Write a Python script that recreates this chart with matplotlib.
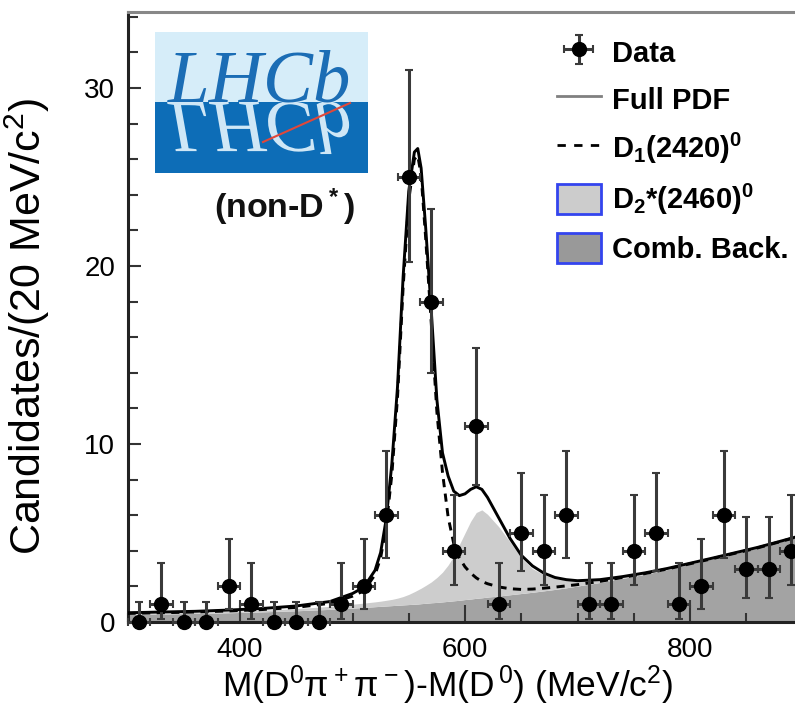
import matplotlib
matplotlib.use("Agg")
import matplotlib.pyplot as plt
from matplotlib.lines import Line2D
from matplotlib.patches import Patch, Rectangle, PathPatch
from matplotlib.textpath import TextPath
from matplotlib.font_manager import FontProperties
from matplotlib.ticker import MultipleLocator, FixedLocator
from matplotlib.transforms import Affine2D

plt.rcParams['font.family'] = ['Liberation Sans', 'DejaVu Sans']
plt.rcParams['mathtext.default'] = 'regular'

# ---- data ----
bin_centers = [310, 330, 350, 370, 390, 410, 430, 450, 470, 490,
               510, 530, 550, 570, 590, 610, 630, 650, 670, 690,
               710, 730, 750, 770, 790, 810, 830, 850, 870, 890]
counts = [0, 1, 0, 0, 2, 1, 0, 0, 0, 1,
          2, 6, 25, 18, 4, 11, 1, 5, 4, 6,
          1, 1, 4, 5, 1, 2, 6, 3, 3, 4]
# lower / upper ends of the vertical error bars
err_lo = [0, 0.17, 0, 0, 0.71, 0.17, 0, 0, 0, 0.17,
          0.71, 3.62, 20.2, 14.0, 2.09, 7.7, 0.17, 2.84, 2.09, 3.62,
          0.17, 0.17, 2.09, 2.84, 0.17, 0.71, 3.62, 1.37, 1.37, 2.09]
err_hi = [1.15, 3.3, 1.15, 1.15, 4.64, 3.3, 1.15, 1.15, 1.15, 3.3,
          4.64, 9.58, 31.0, 23.2, 7.16, 15.4, 3.3, 8.38, 7.16, 9.58,
          3.3, 3.3, 7.16, 8.38, 3.3, 4.64, 9.58, 5.92, 5.92, 7.16]

# fit curves
curve_x = [300, 330, 360, 390, 420, 450, 480, 500, 510, 520, 525, 530, 535, 540, 545,
           550, 555, 558, 561, 565, 570, 575, 580, 585, 590, 595, 600, 605, 610, 615,
           620, 630, 640, 650, 660, 670, 680, 690, 700, 720, 740, 760, 780, 800, 820,
           840, 860, 880, 900]
comb_back = [0.42, 0.45, 0.48, 0.52, 0.57, 0.63, 0.71, 0.78, 0.82, 0.86, 0.88, 0.9, 0.92, 0.94, 0.96,
             0.98, 1.0, 1.01, 1.03, 1.05, 1.08, 1.1, 1.13, 1.16, 1.19, 1.22, 1.26, 1.29, 1.33, 1.36,
             1.4, 1.46, 1.53, 1.6, 1.67, 1.75, 1.83, 1.92, 2.02, 2.22, 2.45, 2.68, 2.95, 3.25, 3.55,
             3.85, 4.15, 4.5, 4.85]
d2_top = [0.46, 0.5, 0.54, 0.6, 0.66, 0.75, 0.88, 1.0, 1.06, 1.13, 1.17, 1.22, 1.27, 1.34, 1.43,
          1.55, 1.7, 1.8, 1.9, 2.05, 2.25, 2.5, 2.8, 3.2, 3.7, 4.35, 5.0, 5.65, 6.15, 6.3,
          6.05, 5.35, 4.5, 3.6, 3.0, 2.65, 2.45, 2.35, 2.33, 2.4, 2.55, 2.74, 2.99, 3.28, 3.57,
          3.87, 4.17, 4.51, 4.86]
d1_dashed = [0.48, 0.52, 0.56, 0.62, 0.7, 0.82, 1.05, 1.45, 1.75, 2.65, 3.6, 5.4, 8.3, 12.6, 18.8,
             23.7, 26.0, 26.2, 25.1, 21.6, 16.8, 11.8, 8.4, 5.9, 4.4, 3.6, 3.1, 2.75, 2.48, 2.28,
             2.15, 1.97, 1.87, 1.83, 1.85, 1.9, 1.96, 2.03, 2.1, 2.28, 2.5, 2.72, 2.98, 3.27, 3.56,
             3.86, 4.16, 4.51, 4.86]
full_pdf = [0.52, 0.56, 0.6, 0.67, 0.76, 0.9, 1.15, 1.6, 1.95, 2.9, 3.9, 5.8, 8.9, 13.2, 19.4,
            24.2, 26.4, 26.6, 25.5, 22.2, 17.5, 12.5, 9.5, 8.2, 7.35, 7.1, 7.2, 7.45, 7.6, 7.45,
            7.0, 5.85, 4.7, 3.75, 3.15, 2.75, 2.5, 2.38, 2.32, 2.38, 2.55, 2.76, 3.01, 3.3, 3.59,
            3.89, 4.19, 4.53, 4.88]

legend_labels = ['Data', 'Full PDF', 'D$_1$(2420)$^0$', 'D$_2$*(2460)$^0$', 'Comb. Back.']

# ---- figure ----
W, H = 795, 713
fig = plt.figure(figsize=(W / 100, H / 100), dpi=100)


def fx(x):
    return x / W


def fy(y):
    return 1 - y / H


ax = fig.add_axes([fx(127.5), fy(622), 675 / W, 610 / H])

ax.fill_between(curve_x, 0, comb_back, color='#a3a3a3', lw=0, zorder=1)
ax.fill_between(curve_x, comb_back, d2_top, color='#cdcdcd', lw=0, zorder=1)
ax.plot(curve_x, d1_dashed, color='black', lw=2.1, dashes=(2.8, 2.2), zorder=3)
ax.plot(curve_x, full_pdf, color='black', lw=2.1, zorder=3)

yerr = [[c - lo for c, lo in zip(counts, err_lo)],
        [hi - c for c, hi in zip(counts, err_hi)]]
eb = ax.errorbar(bin_centers, counts, xerr=10, yerr=yerr, fmt='o', color='black',
                 ecolor='#3a3a3a', elinewidth=2.2, capsize=2.8, capthick=1.5,
                 markersize=10, zorder=5, clip_on=False)

ax.set_xlim(300, 900)
ax.set_ylim(0, 34.27)

ax.xaxis.set_major_locator(FixedLocator([400, 600, 800]))
ax.xaxis.set_minor_locator(MultipleLocator(50))
ax.yaxis.set_major_locator(MultipleLocator(10))
ax.yaxis.set_minor_locator(MultipleLocator(2))
ax.tick_params(axis='both', which='both', direction='in', top=False, right=False,
               labelsize=20, width=1.5, color='#333333')
ax.tick_params(axis='x', which='major', length=12, pad=11)
ax.tick_params(axis='x', which='minor', length=6.5)
ax.tick_params(axis='y', which='major', length=9.5, pad=9)
ax.tick_params(axis='y', which='minor', length=7.5)

ax.spines['right'].set_visible(False)
ax.spines['top'].set_color('#888888')
ax.spines['top'].set_linewidth(2.2)
for s in ['left', 'bottom']:
    ax.spines[s].set_color('#222222')
    ax.spines[s].set_linewidth(2.2)

ax.set_xlabel("M(D$^0$π$^+$π$^-$)-M(D$^{\\,0}$) (MeV/c$^2$)", fontsize=25.5)
ax.xaxis.set_label_coords(0.474, -0.068)
ax.set_ylabel("Candidates/(20 MeV/c$^2$)", fontsize=31)
ax.yaxis.set_label_coords(-0.112, 0.485)

# legend
handles = [eb,
           Line2D([], [], color='#808080', lw=2),
           Line2D([], [], color='black', lw=2, dashes=(3, 3)),
           Patch(facecolor='#cccccc', edgecolor='#3344ee', lw=2),
           Patch(facecolor='#999999', edgecolor='#3344ee', lw=2)]
fig.legend(handles, legend_labels, loc='upper left', bbox_to_anchor=(fx(557), fy(37)),
           frameon=False, prop={'family': 'Liberation Sans', 'weight': 'bold', 'size': 21},
           handlelength=1.5, handleheight=1.2, handletextpad=0.38, labelspacing=0.55,
           borderpad=0, borderaxespad=0)

# LHCb logo
fig.add_artist(Rectangle((fx(155), fy(173)), 213 / W, 141 / H, transform=fig.transFigure,
                         facecolor='#0d6db7', edgecolor='none', zorder=10))
fig.add_artist(Rectangle((fx(155), fy(102)), 213 / W, 70 / H, transform=fig.transFigure,
                         facecolor='#d6edf9', edgecolor='none', zorder=11))
logo_font = FontProperties(family='Liberation Serif', style='italic', size=54)
refl = TextPath((0, 0), 'LHCb', size=54, prop=logo_font)
fig.add_artist(PathPatch(refl, transform=Affine2D().scale(100 / 72, -100 / 72).translate(168, H - 102),
                         facecolor='#cfe7f6', edgecolor='none', zorder=12))
fig.text(fx(168), fy(102), 'LHCb', fontproperties=logo_font, color='#1b6db5',
         ha='left', va='baseline', zorder=13)
fig.add_artist(Line2D([fx(263), fx(350)], [fy(142), fy(103)], transform=fig.transFigure,
                      color='#e0483a', lw=1.5, zorder=14))

fig.text(fx(284), fy(207), "(non-D$^*$)", ha='center', va='center', fontsize=24.5,
         fontweight='bold', color='#111111')

fig.savefig('out.png', dpi=100)
